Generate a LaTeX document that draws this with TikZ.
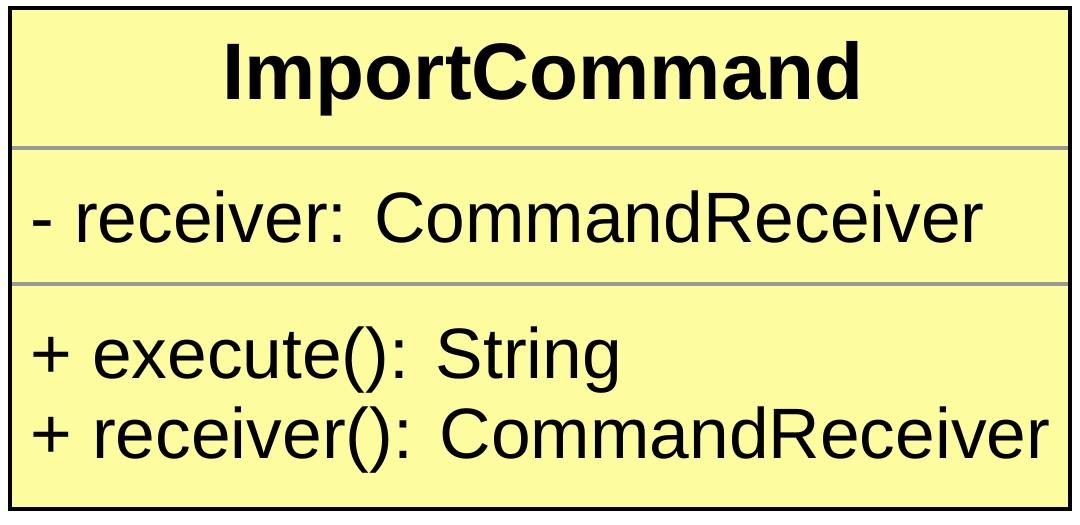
\documentclass[tikz,border=0pt]{standalone}
\usepackage{fontspec}
\setmainfont{Liberation Sans}
\usetikzlibrary{positioning}

\definecolor{classyellow}{RGB}{253,252,158}
\definecolor{sepgray}{RGB}{153,153,153}

\tikzset{
    classname/.style={anchor=base, inner sep=0pt, font=\fontsize{22.8}{28}\selectfont\bfseries},
    member/.style={anchor=base west, inner sep=0pt, font=\fontsize{20.3}{24}\selectfont},
}

\begin{document}
\begin{tikzpicture}
        \useasboundingbox (0,0) rectangle (10.8,5.24);

        \draw[line width=0.04cm, fill=classyellow] (0.10,0.15) rectangle (10.70,5.16);

        % compartments
        \draw[sepgray, line width=0.035cm] (0.12,3.76) -- (10.68,3.76);
        \draw[sepgray, line width=0.035cm] (0.12,2.40) -- (10.68,2.40);

        \node[classname] (name) at (5.43,4.25) {ImportCommand};

        \node[member] (attr) at (0.30,2.82) {- receiver: CommandReceiver};

        \node[member] (op1) at (0.30,1.46) {+ execute(): String};
        \node[member] (op2) at (0.30,0.66) {+ receiver(): CommandReceiver};
    \end{tikzpicture}
\end{document}
